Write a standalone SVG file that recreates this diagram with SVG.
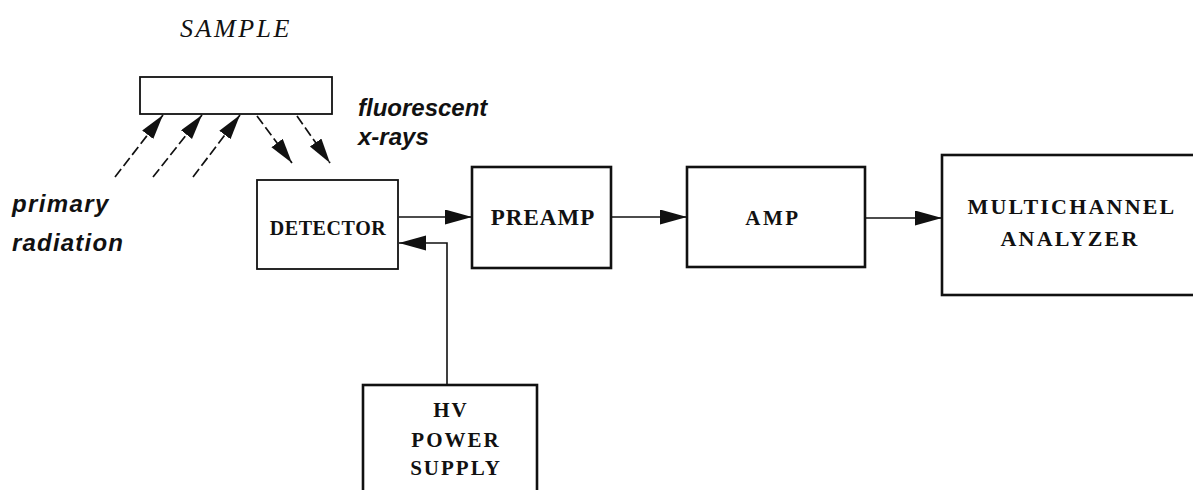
<svg xmlns="http://www.w3.org/2000/svg" width="1193" height="490" viewBox="0 0 1193 490">
<style>
.box{fill:#fff;stroke:#111;stroke-width:2.6}
.thin{fill:#fff;stroke:#111;stroke-width:1.8}
.lbl{font-family:"Liberation Serif",serif;font-weight:bold;fill:#111;text-anchor:middle}
.it{font-family:"Liberation Sans",sans-serif;font-style:italic;font-weight:bold;fill:#111;font-size:24px}
.conn{fill:none;stroke:#111;stroke-width:1.6}
.dash{fill:none;stroke:#111;stroke-width:1.7;stroke-dasharray:10 4}
</style>
<defs>
<marker id="ah" markerUnits="userSpaceOnUse" markerWidth="28" markerHeight="16" refX="27" refY="7.5" orient="auto"><path d="M0,0 L27,7.5 L0,15 z" fill="#111"/></marker>
<marker id="ahd" markerUnits="userSpaceOnUse" markerWidth="26" markerHeight="16" refX="25" refY="7" orient="auto"><path d="M0,0 L25,7 L0,14 z" fill="#111"/></marker>
</defs>
<rect width="1193" height="490" fill="#fff"/>
<text x="236" y="37" font-family="Liberation Serif, serif" font-style="italic" font-size="26" letter-spacing="2.5" text-anchor="middle" fill="#111">SAMPLE</text>
<g id="sample"><rect x="140" y="77" width="192" height="37" class="thin"/></g>
<text class="it" x="358" y="116">fluorescent</text>
<text class="it" x="358" y="145">x-rays</text>
<text class="it" x="12" y="212" letter-spacing="1.4">primary</text>
<text class="it" x="12" y="251" letter-spacing="1.2">radiation</text>
<g id="detector"><rect x="257" y="180" width="141" height="89" class="thin"/><text class="lbl" x="328" y="235" font-size="20" letter-spacing="0.6">DETECTOR</text></g>
<g id="preamp"><rect x="472" y="167" width="139" height="101" class="box"/><text class="lbl" x="543" y="225" font-size="23" letter-spacing="1">PREAMP</text></g>
<g id="amp"><rect x="687" y="167" width="178" height="100" class="box"/><text class="lbl" x="773" y="225" font-size="21" letter-spacing="2.5">AMP</text></g>
<g id="mca"><rect x="942" y="155" width="270" height="140" class="box"/><text class="lbl" x="1072" y="214" font-size="22" letter-spacing="2.2">MULTICHANNEL</text><text class="lbl" x="1070" y="246" font-size="22" letter-spacing="2.2">ANALYZER</text></g>
<g id="hv"><rect x="363" y="385" width="174" height="130" class="box"/><text class="lbl" x="451" y="417" font-size="21" letter-spacing="2">HV</text><text class="lbl" x="456" y="447" font-size="21" letter-spacing="2">POWER</text><text class="lbl" x="456" y="475" font-size="21" letter-spacing="2">SUPPLY</text></g>
<g id="connectors">
<line x1="115" y1="177" x2="163" y2="115" class="dash" marker-end="url(#ahd)"/>
<line x1="153" y1="177" x2="202" y2="115" class="dash" marker-end="url(#ahd)"/>
<line x1="193" y1="177" x2="240" y2="115" class="dash" marker-end="url(#ahd)"/>
<line x1="257" y1="116" x2="292" y2="163" class="dash" marker-end="url(#ahd)"/>
<line x1="297" y1="116" x2="330" y2="163" class="dash" marker-end="url(#ahd)"/>
<line x1="399" y1="217" x2="472" y2="217" class="conn" marker-end="url(#ah)"/>
<path d="M447,385 V243 H399" class="conn" marker-end="url(#ah)"/>
<line x1="612" y1="217" x2="687" y2="217" class="conn" marker-end="url(#ah)"/>
<line x1="866" y1="218" x2="942" y2="218" class="conn" marker-end="url(#ah)"/>
</g>
</svg>
